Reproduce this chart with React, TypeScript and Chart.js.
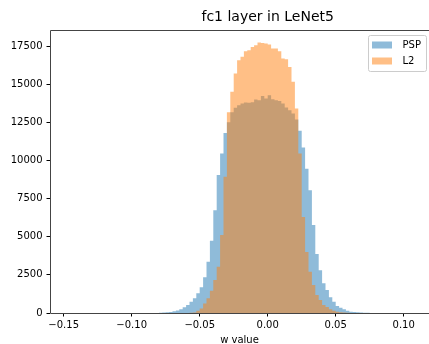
import React, { useEffect, useRef } from 'react';
import { Chart, registerables } from 'chart.js';

Chart.register(...registerables);

// ---- data ----
const chartTitle = 'fc1 layer in LeNet5';
const xAxisLabel = 'w value';
const seriesLabels = ['PSP', 'L2'];
const binStart = -0.08;
const binWidth = 0.0025;

// bins from -0.08 to 0.08, width 0.0025
const pspCounts = [
  10, 20, 30, 45, 70, 110, 160, 250, 380, 520,
  740, 960, 1290, 1680, 2340, 3360, 4740, 6740, 9040, 10450,
  11800, 12500, 13150, 13450, 13620, 13730, 13800, 13780, 13820, 14000,
  13950, 14230, 14060, 14280, 14010, 13950, 13900, 13730, 13470, 13290,
  13080, 12680, 11950, 10850, 9450, 8050, 5760, 3860, 2810, 1950,
  1500, 1030, 740, 460, 350, 240, 150, 90, 60, 45,
  30, 20, 12, 6,
];

const l2Counts = [
  0, 0, 0, 0, 0, 0, 0, 0, 0, 5,
  20, 30, 150, 300, 630, 960, 1460, 2160, 3030, 5110,
  8930, 13150, 14500, 15700, 16570, 16790, 17160, 17220, 17440, 17550,
  17730, 17700, 17660, 17600, 17330, 17330, 17160, 16680, 16630, 16130,
  15150, 13400, 10460, 6300, 4000, 2700, 1830, 1180, 850, 520,
  400, 240, 150, 90, 45, 25, 10, 0, 0, 0,
  0, 0, 0, 0,
];

const xTicks = [-0.15, -0.1, -0.05, 0.0, 0.05, 0.1];
const yTicks = [0, 2500, 5000, 7500, 10000, 12500, 15000, 17500];
const xMin = -0.16007;
const xMax = 0.11860;
const yMax = 18549;

const fillColors = ['rgba(31,119,180,0.5)', 'rgba(255,127,14,0.5)'];
const FONT = '"DejaVu Sans", sans-serif';

function toPoints(counts: number[]) {
  const pts = counts.map((c, i) => ({ x: binStart + i * binWidth, y: c }));
  pts.push({ x: binStart + counts.length * binWidth, y: 0 });
  return pts;
}

const mplPlugin = {
  id: 'mplDecor',
  afterDraw(chart: any) {
    const { ctx, chartArea } = chart;
    const { left, top, right, bottom } = chartArea;
    ctx.save();
    // spines
    ctx.strokeStyle = '#444';
    ctx.lineWidth = 1;
    ctx.beginPath();
    ctx.moveTo(left + 0.5, bottom + 0.5);
    ctx.lineTo(left + 0.5, top + 0.5);
    ctx.lineTo(right + 0.5, top + 0.5);
    ctx.lineTo(right + 0.5, bottom + 0.5);
    ctx.lineTo(left + 0.5, bottom + 0.5);
    ctx.stroke();

    // title
    const cx = chart.scales.x.getPixelForValue(0);
    ctx.fillStyle = '#000';
    ctx.font = `14px ${FONT}`;
    ctx.textAlign = 'center';
    ctx.textBaseline = 'middle';
    ctx.fillText(chartTitle, cx, top - 13);

    // legend
    const fx = right - 60.5;
    const fy = top + 5.5;
    const fw = 58;
    const fh = 36;
    ctx.beginPath();
    if (ctx.roundRect) ctx.roundRect(fx, fy, fw, fh, 2);
    else ctx.rect(fx, fy, fw, fh);
    ctx.fillStyle = 'rgba(255,255,255,0.8)';
    ctx.fill();
    ctx.strokeStyle = '#cccccc';
    ctx.stroke();
    ctx.font = `10px ${FONT}`;
    ctx.textAlign = 'left';
    ctx.textBaseline = 'middle';
    seriesLabels.forEach((lab, i) => {
      const cy = top + 15 + i * 16;
      ctx.fillStyle = fillColors[i];
      ctx.fillRect(fx + 3.5, cy - 3.5, 20, 7);
      ctx.fillStyle = '#000';
      ctx.fillText(lab, fx + 34, cy);
    });
    ctx.restore();
  },
};

export default function App() {
  const ref = useRef<HTMLCanvasElement | null>(null);
  useEffect(() => {
    if (!ref.current) return;
    const chart = new Chart(ref.current, {
      type: 'line',
      data: {
        datasets: [
          {
            label: seriesLabels[0],
            data: toPoints(pspCounts),
            stepped: 'after',
            fill: 'origin',
            backgroundColor: fillColors[0],
            borderColor: 'transparent',
            borderWidth: 0,
            pointRadius: 0,
            pointHitRadius: 0,
            order: 1,
          },
          {
            label: seriesLabels[1],
            data: toPoints(l2Counts),
            stepped: 'after',
            fill: 'origin',
            backgroundColor: fillColors[1],
            borderColor: 'transparent',
            borderWidth: 0,
            pointRadius: 0,
            pointHitRadius: 0,
            order: 0,
          },
        ],
      },
      options: {
        responsive: false,
        animation: false,
        events: [],
        layout: { padding: { top: 30, right: 0, left: 0, bottom: 0 } },
        plugins: {
          legend: { display: false },
          title: { display: false },
          tooltip: { enabled: false },
        },
        scales: {
          x: {
            type: 'linear',
            min: xMin,
            max: xMax,
            afterBuildTicks: (axis: any) => {
              axis.ticks = xTicks.map((v) => ({ value: v }));
            },
            afterFit: (axis: any) => {
              axis.height = 31;
            },
            border: { display: false },
            grid: {
              drawOnChartArea: false,
              drawTicks: true,
              tickLength: 3.5,
              color: '#000',
              lineWidth: 1,
            },
            ticks: {
              padding: 3,
              color: '#000',
              font: { family: FONT, size: 10 },
              maxRotation: 0,
              autoSkip: false,
              callback: (v: any) => {
                const n = Number(v);
                const s = Math.abs(n).toFixed(2);
                return n < -1e-9 ? '\u2212' + s : s;
              },
            },
            title: {
              display: true,
              text: xAxisLabel,
              color: '#000',
              font: { family: FONT, size: 10, lineHeight: 0.8 },
              padding: { top: 0, bottom: 0 },
            },
          },
          y: {
            type: 'linear',
            min: 0,
            max: yMax,
            afterBuildTicks: (axis: any) => {
              axis.ticks = yTicks.map((v) => ({ value: v }));
            },
            afterFit: (axis: any) => {
              axis.width = 50;
            },
            border: { display: false },
            grid: {
              drawOnChartArea: false,
              drawTicks: true,
              tickLength: 3.5,
              color: '#000',
              lineWidth: 1,
            },
            ticks: {
              padding: 4,
              color: '#000',
              font: { family: FONT, size: 10 },
              autoSkip: false,
              callback: (v: any) => String(v),
            },
          },
        },
      },
      plugins: [mplPlugin],
    });
    return () => chart.destroy();
  }, []);

  return (
    <div style={{ position: 'fixed', left: 0, top: 0, width: 429, height: 344, background: '#fff' }}>
      <canvas ref={ref} width={429} height={344} style={{ display: 'block', width: 429, height: 344 }} />
    </div>
  );
}
